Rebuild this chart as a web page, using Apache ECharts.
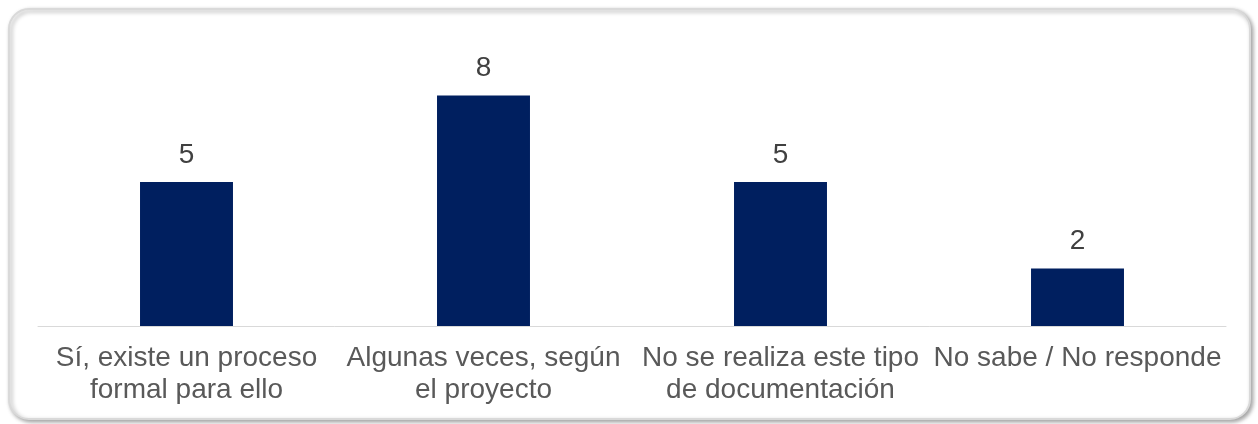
<!DOCTYPE html>
<html>
<head>
<meta charset="utf-8">
<style>
html,body{margin:0;padding:0;background:#fff;}
#chart{width:1258px;height:424px;}
</style>
<script src="https://cdn.jsdelivr.net/npm/echarts@6/dist/echarts.min.js"></script>
</head>
<body>
<div id="chart"></div>
<script>
const categories = [
  "Sí, existe un proceso\nformal para ello",
  "Algunas veces, según\nel proyecto",
  "No se realiza este tipo\nde documentación",
  "No sabe / No responde"
];
const values = [5, 8, 5, 2];

const chart = echarts.init(document.getElementById('chart'), null, {renderer: 'canvas'});
chart.setOption({
  animation: false,
  backgroundColor: '#ffffff',
  graphic: [{
    type: 'rect',
    left: 8, top: 8,
    shape: {width: 1241, height: 410, r: 20},
    style: {
      fill: '#ffffff',
      stroke: '#d9d9d9',
      lineWidth: 2,
      shadowBlur: 4,
      shadowOffsetX: 2,
      shadowOffsetY: 2,
      shadowColor: 'rgba(0,0,0,0.35)'
    },
    z: -10
  }],
  grid: {left: 38, right: 32, top: 38, bottom: 98, containLabel: false},
  xAxis: {
    type: 'category',
    data: categories,
    axisLine: {show: true, lineStyle: {color: '#d9d9d9', width: 1}},
    axisTick: {show: false},
    axisLabel: {
      interval: 0,
      color: '#595959',
      fontFamily: 'Liberation Sans, Arial, sans-serif',
      fontSize: 28,
      lineHeight: 32,
      margin: 16
    }
  },
  yAxis: {
    type: 'value',
    min: 0,
    max: 10,
    show: false,
    splitLine: {show: false}
  },
  series: [{
    type: 'bar',
    data: values,
    barWidth: '31.3%',
    itemStyle: {color: '#001f5f'},
    label: {
      show: true,
      position: 'top',
      distance: 13,
      color: '#404040',
      fontFamily: 'Liberation Sans, Arial, sans-serif',
      fontSize: 28
    }
  }]
});
</script>
</body>
</html>
